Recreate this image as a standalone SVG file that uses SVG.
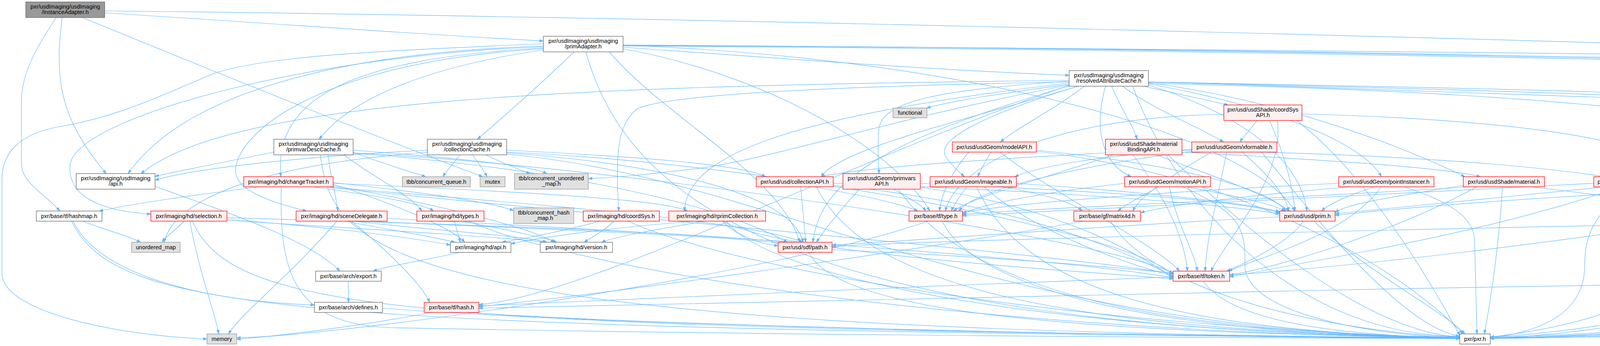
<svg xmlns="http://www.w3.org/2000/svg" width="5709" height="887" viewBox="0 0 5709 887">
<style>
.e path{fill:none;stroke:#63b8ff;stroke-width:1.2;marker-end:url(#arr)}
rect{stroke-width:1.3}
.w{fill:#ffffff;stroke:#666666}
.r{fill:#fff0f0;stroke:#ff0000}
.g{fill:#e0e0e0;stroke:#999999}
.root{fill:#999999;stroke:#666666}
text{font-family:"Liberation Sans",Arial,sans-serif;font-size:14.5px;text-anchor:middle;fill:#000000}
</style>
<defs>
<marker id="arr" markerUnits="userSpaceOnUse" markerWidth="11" markerHeight="8" refX="10" refY="3.5" orient="auto"><path d="M0,0 L10,3.5 L0,7 z" fill="#63b8ff" stroke="#63b8ff" stroke-width="1"/></marker>
</defs>
<rect x="0" y="0" width="5709" height="887" fill="#ffffff"/>
<g id="connectors" class="e">
<path d="M268,28 C1500,40 4200,100 5600,165 C5690,172 5703,190 5703,215 L5703,720 C5703,790 5640,800 5560,805 C4900,840 4300,862 3815,868"/>
<path d="M268,33 C700,60 1100,90 1391,105"/>
<path d="M159,45 C140,200 150,300 272,445"/>
<path d="M144,45 C80,140 55,200 55,260 L55,420 C55,470 120,500 153,541"/>
<path d="M211,45 C600,205 1000,365 1236,453"/>
<path d="M1391,118 C1000,130 500,200 328,445"/>
<path d="M1391,128 C1100,170 900,250 817,357"/>
<path d="M1470,133 C1400,200 1300,290 1222,357"/>
<path d="M1391,123 C900,150 700,250 719,453"/>
<path d="M1391,120 C800,140 200,300 180,420 C170,500 250,540 386,549"/>
<path d="M1391,125 C800,160 600,350 603,440 C605,490 700,520 785,541"/>
<path d="M1391,112 C1000,130 700,140 551,187 C400,250 300,300 150,325 C40,345 5,400 5,460 L5,700 C5,800 300,860 530,869"/>
<path d="M1595,121 C2000,150 2400,180 2737,193"/>
<path d="M1595,115 C2500,118 4000,140 4749,145 C5100,155 5300,170 5464,183"/>
<path d="M1595,117 C3000,120 4700,160 5280,180 C5400,185 5441,250 5441,300 L5441,500 C5441,600 5440,700 5432,768"/>
<path d="M1595,118 C3000,125 4600,160 5150,180 C5300,185 5375,250 5375,350 L5375,560 C5375,620 5330,660 5321,695"/>
<path d="M1595,116 C3000,122 4500,150 5100,175 C5180,180 5217,230 5217,300 L5217,440 C5217,480 5240,510 5245,541"/>
<path d="M1560,133 C1700,300 2000,450 2047,621"/>
<path d="M1595,116 C2500,150 3200,350 3315,541"/>
<path d="M1595,125 C2000,200 2300,400 2380,541"/>
<path d="M1500,133 C1600,500 2000,850 3737,864"/>
<path d="M2737,206 C1500,220 600,250 361,445"/>
<path d="M2737,216 C2600,235 2450,255 2372,277"/>
<path d="M2940,210 C3600,230 4300,255 4688,270"/>
<path d="M2737,218 C2300,300 2000,400 1800,430 C1600,455 1550,455 1506,458"/>
<path d="M2760,221 C2500,300 2150,380 2102,453"/>
<path d="M2737,208 C2400,230 2260,260 2250,330 C2245,390 2250,420 2250,445"/>
<path d="M2760,221 C2500,300 2400,360 2420,400 C2440,430 2460,445 2469,453"/>
<path d="M2776,221 C2700,280 2600,330 2561,364"/>
<path d="M2846,221 C2870,280 2900,320 2911,357"/>
<path d="M2874,221 C2950,280 3080,330 3132,364"/>
<path d="M2927,221 C3000,237 3080,255 3144,269"/>
<path d="M2830,221 C2800,330 2820,420 2896,453"/>
<path d="M2940,215 C3300,280 3500,380 3536,453"/>
<path d="M2940,212 C3300,260 3600,380 3750,453"/>
<path d="M2940,214 C4200,240 4700,330 4600,420 C4500,455 4350,460 4276,463"/>
<path d="M2940,211 C3800,230 4500,250 4620,280 C4700,320 4730,400 4734,453"/>
<path d="M2940,210 C4000,230 4900,250 5020,300 C5075,330 5080,400 5080,500 C5080,600 5040,650 5027,695"/>
<path d="M2737,210 C2200,220 1700,240 1630,280 C1580,320 1575,400 1584,541"/>
<path d="M2737,213 C2000,300 1760,400 1752,541"/>
<path d="M2940,218 C3200,300 3330,420 3346,541"/>
<path d="M2737,220 C2300,350 2100,450 2081,621"/>
<path d="M2737,219 C2200,400 1500,760 1226,781"/>
<path d="M2900,221 C3000,500 3300,860 3737,862"/>
<path d="M5560,221 L5558,720 C5555,800 5450,815 5300,825 C4800,850 4200,864 3815,867"/>
<path d="M3217,309 C3205,330 3185,345 3175,364"/>
<path d="M3133,293 C2700,300 2450,420 2420,541"/>
<path d="M3333,292 C4000,310 4395,380 4393,541"/>
<path d="M3320,309 C3500,450 3650,700 3737,860"/>
<path d="M3250,309 C3290,400 3310,480 3315,541"/>
<path d="M3270,309 C3290,450 3150,600 3100,695"/>
<path d="M4830,309 C4900,500 4600,820 3815,864"/>
<path d="M701,390 C550,420 450,440 397,452"/>
<path d="M840,397 C845,450 860,500 865,541"/>
<path d="M880,397 C950,450 1050,500 1080,541"/>
<path d="M904,390 C980,420 1050,440 1090,453"/>
<path d="M904,385 C1100,400 1350,420 1400,445"/>
<path d="M904,393 C1300,420 1800,500 2016,621"/>
<path d="M904,392 C1500,420 2800,600 3003,700"/>
<path d="M820,397 C850,650 1000,850 3737,866"/>
<path d="M1094,385 C800,400 500,430 397,462"/>
<path d="M1094,390 C700,420 450,500 420,621"/>
<path d="M1177,397 C1165,415 1145,435 1134,453"/>
<path d="M1210,397 C1222,415 1238,435 1247,453"/>
<path d="M1244,397 C1280,415 1330,435 1357,445"/>
<path d="M1297,385 C1600,400 1900,420 1960,453"/>
<path d="M1297,392 C1700,420 2030,500 2056,621"/>
<path d="M1297,390 C2000,420 2900,600 3003,705"/>
<path d="M1297,395 C2000,460 2500,850 3737,866"/>
<path d="M2537,390 C2525,410 2512,432 2503,453"/>
<path d="M2480,390 C2430,450 2410,500 2405,541"/>
<path d="M2653,385 C3000,420 3250,480 3291,541"/>
<path d="M2560,390 C2700,500 2950,620 3020,695"/>
<path d="M2653,388 C3200,450 3600,700 3745,856"/>
<path d="M3026,390 C3400,410 3700,430 3790,453"/>
<path d="M3026,385 C3800,400 4300,450 4397,541"/>
<path d="M2960,397 C3100,450 3250,500 3300,541"/>
<path d="M2830,392 C2500,410 2200,430 2102,453"/>
<path d="M2850,397 C2700,450 2500,500 2440,541"/>
<path d="M2900,397 C2980,500 3030,600 3040,695"/>
<path d="M2990,397 C3200,600 3500,850 3737,864"/>
<path d="M3051,383 C2800,400 2650,430 2598,453"/>
<path d="M3100,390 C3000,450 2920,500 2900,541"/>
<path d="M3180,390 C3250,450 3290,500 3300,541"/>
<path d="M3051,388 C2800,420 2500,480 2455,541"/>
<path d="M3140,390 C3120,500 3090,600 3085,695"/>
<path d="M3230,390 C3400,600 3600,840 3737,862"/>
<path d="M397,478 C600,550 800,620 870,695"/>
<path d="M663,479 C500,500 350,520 254,541"/>
<path d="M853,472 C1000,520 1150,580 1190,621"/>
<path d="M853,476 C1100,520 1350,580 1420,621"/>
<path d="M853,470 C1300,490 1700,510 1760,541"/>
<path d="M800,479 C950,500 1080,520 1110,541"/>
<path d="M840,479 C1300,520 1900,560 2056,621"/>
<path d="M853,468 C1050,490 1250,515 1315,540"/>
<path d="M830,479 C1500,550 2700,650 3003,702"/>
<path d="M720,479 C715,700 750,830 1000,840 C2000,860 3200,866 3737,868"/>
<path d="M2084,479 C2200,500 2300,520 2350,541"/>
<path d="M2133,470 C2700,490 3100,520 3276,548"/>
<path d="M2050,479 C2055,540 2060,580 2062,621"/>
<path d="M2133,475 C2600,520 2900,650 3003,710"/>
<path d="M2090,479 C2200,700 2600,850 3737,864"/>
<path d="M2288,485 C2330,510 2360,525 2370,541"/>
<path d="M2356,470 C2800,490 3150,510 3276,545"/>
<path d="M2356,480 C2700,530 2900,640 3003,712"/>
<path d="M2200,485 C2150,540 2110,590 2090,621"/>
<path d="M2300,485 C2450,700 2800,850 3737,865"/>
<path d="M2475,479 C2460,500 2445,520 2435,541"/>
<path d="M2570,479 C2680,500 2750,520 2770,541"/>
<path d="M2602,470 C2900,490 3200,520 3276,543"/>
<path d="M2520,479 C2650,600 2900,680 3003,708"/>
<path d="M2500,479 C2600,700 2900,850 3737,866"/>
<path d="M2966,479 C2920,505 2880,525 2862,541"/>
<path d="M2994,479 C3010,570 3060,650 3065,695"/>
<path d="M3037,479 C3150,500 3250,520 3290,541"/>
<path d="M2879,470 C2700,490 2520,520 2464,548"/>
<path d="M3027,479 C3190,550 3187,600 3187,680 C3187,780 3400,850 3737,867"/>
<path d="M3520,479 C3450,500 3400,525 3383,541"/>
<path d="M3536,479 C3450,600 3250,650 3145,695"/>
<path d="M3595,479 C3720,520 3775,560 3775,620 L3781,856"/>
<path d="M3427,470 C3000,490 2600,520 2464,545"/>
<path d="M3460,479 C3200,500 3000,525 2920,545"/>
<path d="M3920,479 C4100,500 4250,520 4310,541"/>
<path d="M3846,479 C3840,600 3820,750 3800,856"/>
<path d="M3746,475 C3600,500 3450,520 3418,545"/>
<path d="M3760,479 C3300,510 2700,530 2464,550"/>
<path d="M3780,479 C3600,580 3300,680 3148,705"/>
<path d="M4208,479 C4280,500 4330,520 4352,541"/>
<path d="M4161,479 C4080,560 4057,600 4057,680 C4057,800 3950,850 3815,866"/>
<path d="M4150,479 C3800,600 3400,660 3148,710"/>
<path d="M4110,479 C3900,500 3600,530 3418,548"/>
<path d="M4080,470 C3500,500 2900,530 2464,553"/>
<path d="M4655,470 C4200,490 3700,520 3418,552"/>
<path d="M4740,479 C4700,650 4500,830 3815,868"/>
<path d="M211,567 C270,590 330,605 360,621"/>
<path d="M187,567 C250,700 500,770 805,782"/>
<path d="M183,567 C300,800 700,840 3737,868"/>
<path d="M471,567 C450,590 425,605 415,621"/>
<path d="M486,567 C510,700 550,800 560,856"/>
<path d="M581,562 C800,580 1000,600 1153,628"/>
<path d="M581,565 C900,585 1250,605 1400,621"/>
<path d="M581,558 C1000,570 1700,590 2016,621"/>
<path d="M492,567 C600,800 1000,840 3737,867"/>
<path d="M862,567 C750,700 620,800 585,856"/>
<path d="M885,567 C1000,590 1100,605 1165,621"/>
<path d="M903,567 C1100,590 1350,605 1400,621"/>
<path d="M940,567 C1300,585 1800,600 2016,625"/>
<path d="M900,567 C1000,650 1080,730 1100,775"/>
<path d="M991,560 C1800,600 2700,660 3003,712"/>
<path d="M1163,567 C1170,590 1175,605 1178,621"/>
<path d="M1185,567 C1300,590 1400,610 1425,621"/>
<path d="M1200,567 C1500,700 2500,850 3737,867"/>
<path d="M1537,567 C1450,590 1350,610 1285,621"/>
<path d="M1571,567 C1550,590 1520,605 1495,621"/>
<path d="M1608,567 C1900,700 2800,840 3737,866"/>
<path d="M1780,567 C1600,580 1400,605 1308,625"/>
<path d="M1805,567 C1700,585 1580,605 1540,621"/>
<path d="M1850,567 C1880,600 1940,625 1992,630"/>
<path d="M1850,567 C2000,650 2700,690 3003,715"/>
<path d="M1860,567 C1950,700 2600,850 3737,866"/>
<path d="M2375,567 C2000,700 900,860 606,866"/>
<path d="M2412,567 C2500,750 3000,860 3737,866"/>
<path d="M2775,567 C2300,650 1500,760 1226,786"/>
<path d="M2843,567 C2950,750 3400,850 3737,864"/>
<path d="M3276,556 C2800,580 2300,620 2130,628"/>
<path d="M3337,567 C3300,620 3200,670 3140,695"/>
<path d="M3364,567 C3500,700 3700,800 3750,856"/>
<path d="M4324,567 C4000,620 3500,680 3148,705"/>
<path d="M4380,567 C4340,700 4200,820 3815,864"/>
<path d="M5168,556 C4000,580 2500,610 2130,632"/>
<path d="M5248,567 C5200,700 5100,820 3815,865"/>
<path d="M2130,640 C2600,660 2900,690 3003,700"/>
<path d="M2070,647 C2150,800 2700,850 3737,866"/>
<path d="M892,721 L892,775"/>
<path d="M1177,647 C1100,665 1000,680 955,695"/>
<path d="M3003,710 C2400,730 1600,770 1226,784"/>
<path d="M3080,721 C3150,820 3400,860 3737,866"/>
<path d="M5006,721 C4900,820 4400,855 3815,866"/>
<path d="M5219,712 C4000,730 2000,770 1226,790"/>
<path d="M5299,721 C5200,800 4800,850 3815,867"/>
<path d="M979,790 C1500,830 2700,860 3737,868"/>
<path d="M1105,801 C900,840 700,862 606,870"/>
<path d="M1190,801 C1800,840 3000,862 3737,868"/>
<path d="M5305,798 C4800,820 4300,850 3815,868"/>
</g>
<g id="n_instanceAdapter"><rect class="root" x="66" y="5" width="202" height="40"/><text x="167" y="21.5">pxr/usdImaging/usdImaging</text><text x="167" y="36">/instanceAdapter.h</text></g>
<g id="n_primAdapter"><rect class="w" x="1391" y="93" width="204" height="40"/><text x="1493" y="109.5">pxr/usdImaging/usdImaging</text><text x="1493" y="124">/primAdapter.h</text></g>
<g id="n_resolvedAttributeCache"><rect class="w" x="2737" y="181" width="203" height="40"/><text x="2838.5" y="197.5">pxr/usdImaging/usdImaging</text><text x="2838.5" y="212">/resolvedAttributeCache.h</text></g>
<g id="n_usdImagingTypes"><rect class="w" x="5464" y="181" width="202" height="40"/><text x="5565" y="197.5">pxr/usdImaging/usdImaging</text><text x="5565" y="212">/types.h</text></g>
<g id="n_functional"><rect class="g" x="2286" y="277" width="87" height="25"/><text x="2329.5" y="294">functional</text></g>
<g id="n_coordSysAPI"><rect class="r" x="3133" y="269" width="200" height="40"/><text x="3233" y="285.5">pxr/usd/usdShade/coordSys</text><text x="3233" y="300">API.h</text></g>
<g id="n_debugCodes"><rect class="r" x="4688" y="269" width="202" height="40"/><text x="4789" y="285.5">pxr/usdImaging/usdImaging</text><text x="4789" y="300">/debugCodes.h</text></g>
<g id="n_primvarDescCache"><rect class="w" x="701" y="357" width="203" height="40"/><text x="802.5" y="373.5">pxr/usdImaging/usdImaging</text><text x="802.5" y="388">/primvarDescCache.h</text></g>
<g id="n_collectionCache"><rect class="w" x="1094" y="357" width="203" height="40"/><text x="1195.5" y="373.5">pxr/usdImaging/usdImaging</text><text x="1195.5" y="388">/collectionCache.h</text></g>
<g id="n_modelAPI"><rect class="r" x="2438" y="364" width="215" height="26"/><text x="2545.5" y="381.5">pxr/usd/usdGeom/modelAPI.h</text></g>
<g id="n_materialBindingAPI"><rect class="r" x="2830" y="357" width="196" height="40"/><text x="2928" y="373.5">pxr/usd/usdShade/material</text><text x="2928" y="388">BindingAPI.h</text></g>
<g id="n_xformable"><rect class="r" x="3051" y="364" width="218" height="26"/><text x="3160" y="381.5">pxr/usd/usdGeom/xformable.h</text></g>
<g id="n_usdImagingApi"><rect class="w" x="195" y="445" width="202" height="40"/><text x="296" y="461.5">pxr/usdImaging/usdImaging</text><text x="296" y="476">/api.h</text></g>
<g id="n_changeTracker"><rect class="r" x="624" y="453" width="229" height="26"/><text x="738.5" y="470.5">pxr/imaging/hd/changeTracker.h</text></g>
<g id="n_concurrentQueue"><rect class="g" x="1030" y="453" width="174" height="26"/><text x="1117" y="470.5">tbb/concurrent_queue.h</text></g>
<g id="n_mutex"><rect class="g" x="1229" y="453" width="64" height="26"/><text x="1261" y="470.5">mutex</text></g>
<g id="n_concurrentUnorderedMap"><rect class="g" x="1317" y="445" width="189" height="40"/><text x="1411.5" y="461.5">tbb/concurrent_unordered</text><text x="1411.5" y="476">_map.h</text></g>
<g id="n_collectionAPI"><rect class="r" x="1936" y="453" width="197" height="26"/><text x="2034.5" y="470.5">pxr/usd/usd/collectionAPI.h</text></g>
<g id="n_primvarsAPI"><rect class="r" x="2158" y="445" width="198" height="40"/><text x="2257" y="461.5">pxr/usd/usdGeom/primvars</text><text x="2257" y="476">API.h</text></g>
<g id="n_imageable"><rect class="r" x="2381" y="453" width="221" height="26"/><text x="2491.5" y="470.5">pxr/usd/usdGeom/imageable.h</text></g>
<g id="n_motionAPI"><rect class="r" x="2879" y="453" width="220" height="26"/><text x="2989" y="470.5">pxr/usd/usdGeom/motionAPI.h</text></g>
<g id="n_pointInstancer"><rect class="r" x="3427" y="453" width="244" height="26"/><text x="3549" y="470.5">pxr/usd/usdGeom/pointInstancer.h</text></g>
<g id="n_material"><rect class="r" x="3746" y="453" width="208" height="26"/><text x="3850" y="470.5">pxr/usd/usdShade/material.h</text></g>
<g id="n_shader"><rect class="r" x="4080" y="453" width="196" height="26"/><text x="4178" y="470.5">pxr/usd/usdShade/shader.h</text></g>
<g id="n_primRange"><rect class="r" x="4655" y="453" width="185" height="26"/><text x="4747.5" y="470.5">pxr/usd/usd/primRange.h</text></g>
<g id="n_hashmap"><rect class="w" x="93" y="541" width="168" height="26"/><text x="177" y="558.5">pxr/base/tf/hashmap.h</text></g>
<g id="n_selection"><rect class="r" x="386" y="541" width="195" height="26"/><text x="483.5" y="558.5">pxr/imaging/hd/selection.h</text></g>
<g id="n_sceneDelegate"><rect class="r" x="758" y="541" width="233" height="26"/><text x="874.5" y="558.5">pxr/imaging/hd/sceneDelegate.h</text></g>
<g id="n_hdTypes"><rect class="r" x="1067" y="541" width="172" height="26"/><text x="1153" y="558.5">pxr/imaging/hd/types.h</text></g>
<g id="n_concurrentHashMap"><rect class="g" x="1315" y="533" width="154" height="40"/><text x="1392" y="549.5">tbb/concurrent_hash</text><text x="1392" y="564">_map.h</text></g>
<g id="n_hdCoordSys"><rect class="r" x="1493" y="541" width="195" height="26"/><text x="1590.5" y="558.5">pxr/imaging/hd/coordSys.h</text></g>
<g id="n_rprimCollection"><rect class="r" x="1712" y="541" width="248" height="26"/><text x="1836" y="558.5">pxr/imaging/hd/rprimCollection.h</text></g>
<g id="n_tfType"><rect class="r" x="2327" y="541" width="137" height="26"/><text x="2395.5" y="558.5">pxr/base/tf/type.h</text></g>
<g id="n_matrix4d"><rect class="r" x="2749" y="541" width="171" height="26"/><text x="2834.5" y="558.5">pxr/base/gf/matrix4d.h</text></g>
<g id="n_prim"><rect class="r" x="3276" y="541" width="142" height="26"/><text x="3347" y="558.5">pxr/usd/usd/prim.h</text></g>
<g id="n_usdShadeTokens"><rect class="r" x="4282" y="541" width="198" height="26"/><text x="4381" y="558.5">pxr/usd/usdShade/tokens.h</text></g>
<g id="n_attribute"><rect class="r" x="5168" y="541" width="170" height="26"/><text x="5253" y="558.5">pxr/usd/usd/attribute.h</text></g>
<g id="n_unorderedMap"><rect class="g" x="337" y="621" width="124" height="26"/><text x="399" y="638.5">unordered_map</text></g>
<g id="n_hdApi"><rect class="w" x="1153" y="621" width="155" height="26"/><text x="1230.5" y="638.5">pxr/imaging/hd/api.h</text></g>
<g id="n_hdVersion"><rect class="w" x="1383" y="621" width="185" height="26"/><text x="1475.5" y="638.5">pxr/imaging/hd/version.h</text></g>
<g id="n_sdfPath"><rect class="r" x="1992" y="621" width="138" height="26"/><text x="2061" y="638.5">pxr/usd/sdf/path.h</text></g>
<g id="n_archExport"><rect class="w" x="808" y="695" width="168" height="26"/><text x="892" y="712.5">pxr/base/arch/export.h</text></g>
<g id="n_tfToken"><rect class="r" x="3003" y="695" width="145" height="26"/><text x="3075.5" y="712.5">pxr/base/tf/token.h</text></g>
<g id="n_workUtils"><rect class="r" x="4934" y="695" width="158" height="26"/><text x="5013" y="712.5">pxr/base/work/utils.h</text></g>
<g id="n_timeCode"><rect class="r" x="5219" y="695" width="175" height="26"/><text x="5306.5" y="712.5">pxr/usd/usd/timeCode.h</text></g>
<g id="n_archDefines"><rect class="w" x="805" y="775" width="174" height="26"/><text x="892" y="792.5">pxr/base/arch/defines.h</text></g>
<g id="n_tfHash"><rect class="r" x="1086" y="775" width="140" height="26"/><text x="1156" y="792.5">pxr/base/tf/hash.h</text></g>
<g id="n_usdImagingVersion"><rect class="w" x="5305" y="768" width="203" height="40"/><text x="5406.5" y="784.5">pxr/usdImaging/usdImaging</text><text x="5406.5" y="799">/version.h</text></g>
<g id="n_memory"><rect class="g" x="530" y="856" width="76" height="26"/><text x="568" y="873.5">memory</text></g>
<g id="n_pxr"><rect class="w" x="3737" y="856" width="78" height="26"/><text x="3776" y="873.5">pxr/pxr.h</text></g>
</svg>
